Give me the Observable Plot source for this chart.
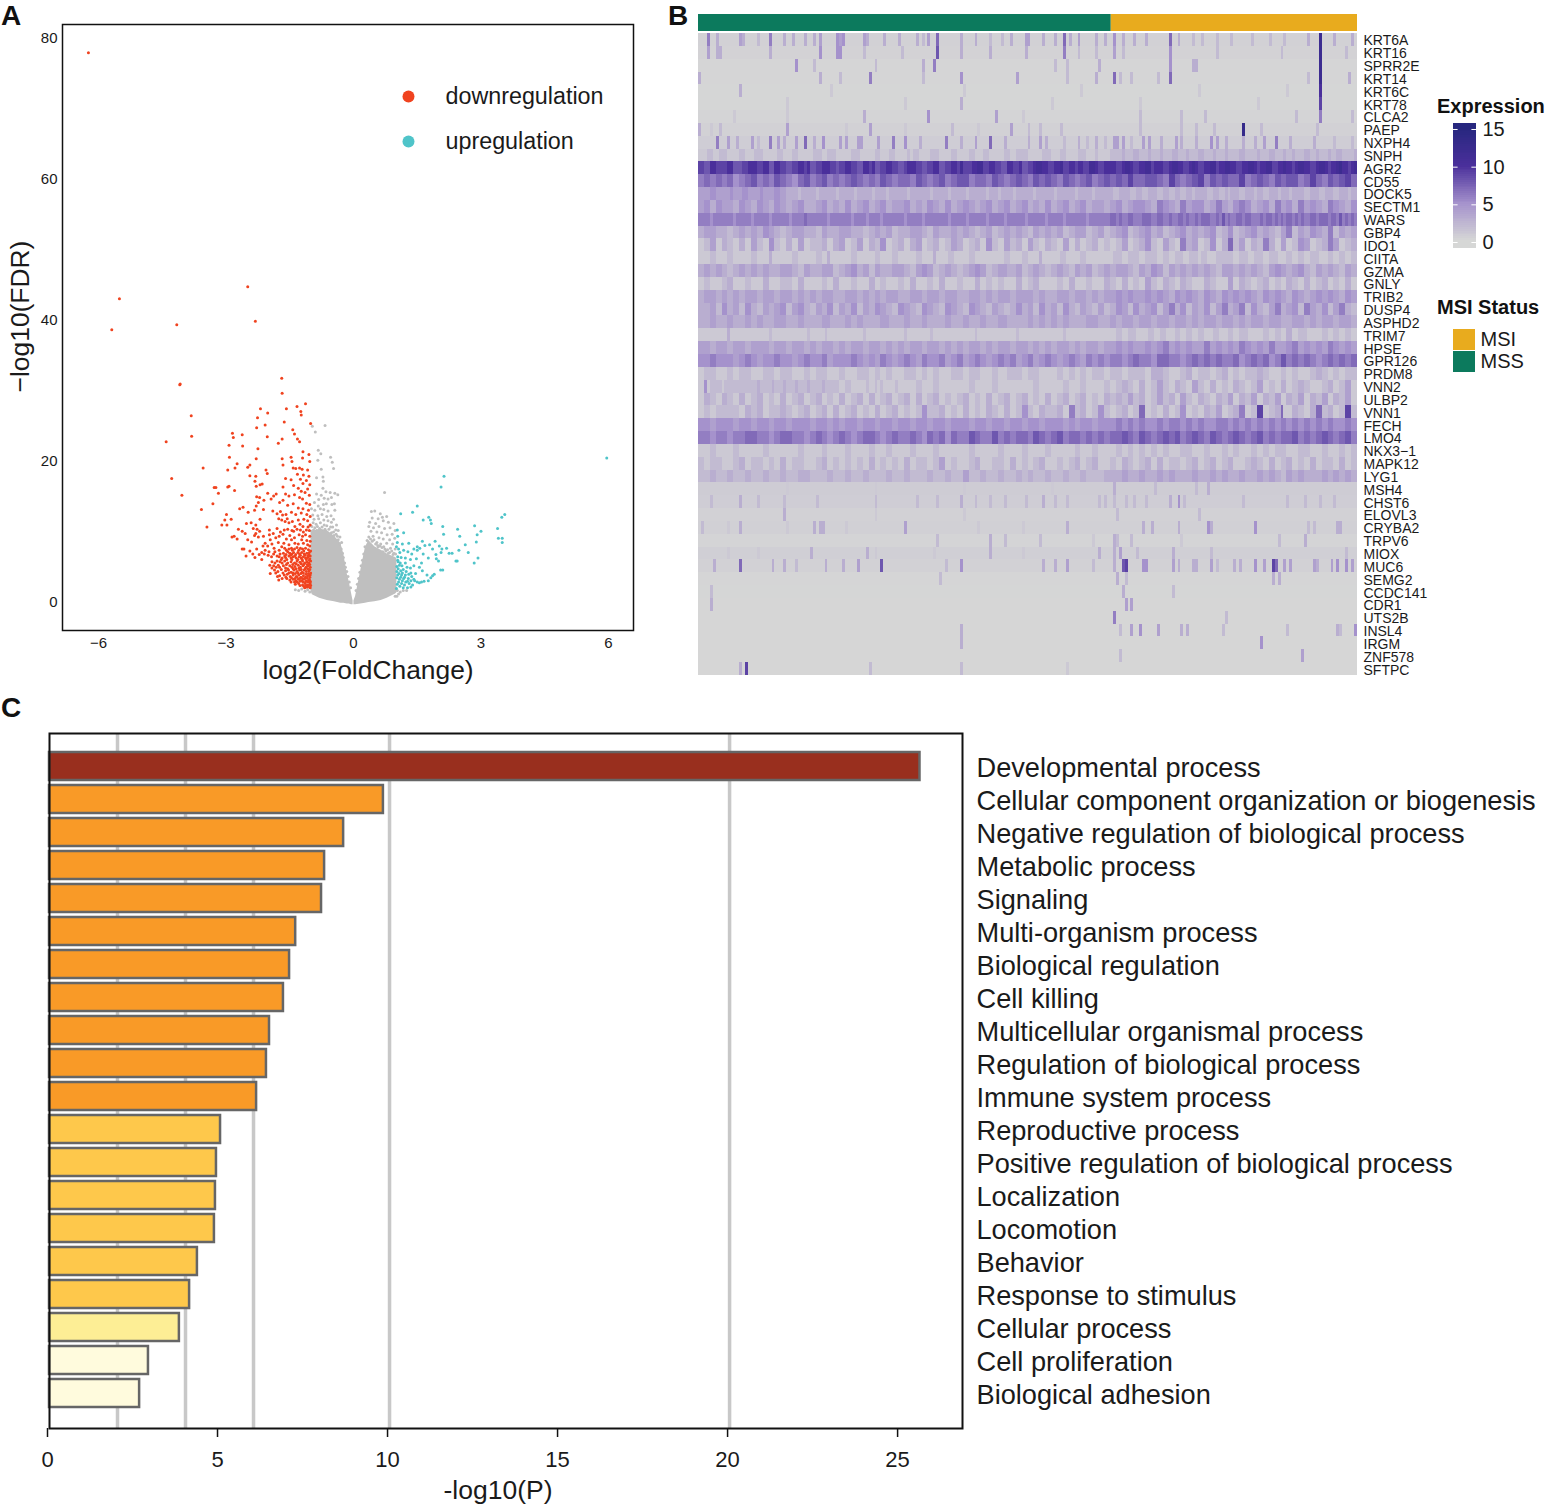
<!DOCTYPE html>
<html>
<head>
<meta charset="utf-8">
<script src="https://cdn.jsdelivr.net/npm/d3@7"></script>
<script src="https://cdn.jsdelivr.net/npm/@observablehq/plot@0.6"></script>
<style>
html,body{margin:0;padding:0;background:#fff;}
#page{position:relative;width:1545px;height:1505px;overflow:hidden;font-family:"Liberation Sans",Arial,sans-serif;color:#111;}
#page>svg,#page>div.t{position:absolute;}
.t{font-weight:bold;white-space:nowrap;line-height:1.1;}
</style>
</head>
<body>
<div id="page"></div>
<script>
/* ---------- Panel A: volcano ---------- */
const downPts = [[-6.24,78.0],[-5.51,43.1],[-5.69,38.7],[-4.16,39.4],[-2.49,44.8],[-2.31,39.9],[-4.09,30.9],[-1.69,31.8],[-1.68,29.7],
[-4.41,22.8],[-4.08,31.0],[-3.82,26.5],[-3.81,23.6],[-3.54,19.1],[-4.28,17.6],[-4.04,15.2],[-3.58,13.2],[-3.45,10.7],[-3.31,14.0],[-3.28,16.3],[-3.24,16.3],[-3.18,15.5],[-2.96,16.4],[-2.93,16.5],[-2.80,15.9],[-2.92,20.6],[-2.96,18.8],[-2.79,19.1],[-2.74,19.7],[-2.93,22.3],[-2.61,22.2],[-2.85,24.0],[-2.83,23.4],[-2.62,23.8],[-2.25,21.8],[-2.29,20.4],[-2.49,19.2],[-2.44,19.5],[-2.44,18.0],[-2.30,17.9],[-2.32,17.2],[-2.29,16.5],[-2.20,16.7],[-2.15,16.8],[-2.06,18.8],[-2.03,18.3],[-2.26,26.2],[-2.19,27.5],[-2.02,26.9],[-2.08,25.2],[-2.28,24.8],[-2.03,23.5],[-1.77,22.6],[-1.68,23.2],[-1.63,25.6],[-1.58,27.5],[-1.33,27.8],[-1.24,27.1],[-1.23,26.6],[-1.13,28.2],[-1.01,25.4],[-1.43,24.5],[-1.39,23.9],[-1.32,23.2],[-1.27,22.8],[-1.47,20.6],[-1.45,20.0],[-1.68,20.4],[-1.66,19.5],[-1.19,21.4],[-1.05,21.0],[-1.20,20.5],[-1.03,20.0],
[-1.42,19.1],[-1.36,19.0],[-1.27,19.1],[-1.21,18.9],[-1.08,18.8],[-1.32,18.2],[-1.18,18.1],[-1.05,17.9],[-1.60,17.6],[-1.47,17.4],[-1.25,17.5],[-1.11,17.3],[-1.19,16.9],[-1.03,16.7],[-1.66,16.4],[-1.41,16.6],[-1.30,16.2],[-1.08,16.1],[-1.23,15.8],[-1.14,15.6],[-1.60,15.4],[-1.52,15.1],[-1.39,15.3],[-1.04,15.2],[-1.27,14.9],[-1.20,14.7],[-2.02,15.5],[-1.88,15.1],[-1.82,15.4],[-1.94,14.7],[-2.11,14.5],[-2.21,14.9],[-2.28,15.0],[-2.24,14.2],[-1.74,14.2],[-1.66,14.5],[-1.55,13.8],[-1.42,14.0],[-1.11,14.1],[-1.03,13.9],[-1.30,13.4],[-1.19,13.3],[-1.06,13.1],[-2.29,13.7],[-2.33,13.1],[-2.48,12.8],[-2.68,13.3],[-2.60,13.5],[-2.12,13.2],[-1.90,13.0],[-1.72,12.9],[-1.80,12.6],[-1.67,12.4],[-1.59,12.5],[-1.46,12.8],[-1.36,12.5],[-1.23,12.7],[-1.10,12.5],[-1.02,12.2],[-2.99,12.5],[-3.03,11.7],[-2.88,11.8],[-3.10,11.0],[-2.98,11.0],[-2.52,11.2],[-2.41,11.3],[-2.30,11.0],[-2.36,10.5],[-2.20,11.8],[-1.76,11.9],[-1.69,11.7],[-1.61,11.5],[-1.56,11.9],[-1.52,11.3],[-1.44,11.5],[-1.30,11.7],[-1.17,11.8],[-1.08,11.6],[-1.26,11.1],[-1.38,10.8],[-1.19,10.8],[-1.07,10.7],[-1.02,11.0],
[-2.71,10.4],[-2.62,10.1],[-2.55,9.8],[-2.86,9.3],[-2.81,9.4],[-2.30,9.8],[-2.27,10.4],[-2.21,10.1],[-2.33,9.5],[-2.24,9.3],[-1.98,10.3],[-1.80,10.5],[-1.72,10.0],[-1.63,10.3],[-1.55,10.4],[-1.45,10.2],[-1.41,10.1],[-1.33,10.4],[-1.25,10.3],[-1.18,10.0],[-1.11,10.3],[-1.04,10.2],[-1.98,9.6],[-1.83,9.2],[-1.75,9.4],[-1.66,9.7],[-1.50,9.5],[-1.39,9.2],[-1.28,9.6],[-1.20,9.4],[-1.13,9.6],[-1.03,9.4],[-1.58,9.0],[-1.46,8.9],[-1.22,8.9],[-1.10,8.8],[-1.02,8.7],[-2.62,7.6],[-2.58,7.6],[-2.53,6.6],[-2.08,8.4],[-2.13,8.0],[-2.02,8.0],[-1.92,8.3],[-1.87,7.7],[-1.77,8.5],[-1.64,8.4],[-1.52,8.2],[-1.38,8.4],[-1.30,8.3],[-1.18,8.4],[-1.08,8.2],[-1.03,8.0],[-2.08,7.4],[-2.16,7.1],[-1.99,7.2],[-1.85,7.2],[-1.75,7.4],[-1.62,7.7],[-1.52,7.6],[-1.46,7.7],[-1.39,7.6],[-1.33,7.8],[-1.25,7.7],[-1.20,7.6],[-1.13,7.7],[-1.06,7.5],[-1.01,7.3],[-2.32,6.4],[-2.16,6.1],[-2.01,6.7],[-1.93,6.5],[-1.88,6.9],[-1.65,7.0],[-1.59,6.8],[-1.55,7.2],[-1.50,7.0],[-1.45,6.9],[-1.41,7.1],[-1.36,6.8],[-1.31,7.1],[-1.27,6.9],[-1.22,7.1],[-1.16,6.9],[-1.10,7.0],[-1.05,6.8],[-1.02,6.6],[-1.75,6.5],[-1.68,6.3],[-1.60,6.4],[-1.52,6.6],[-1.47,6.3],[-1.42,6.5],[-1.35,6.3],[-1.28,6.5],[-1.23,6.3],[-1.18,6.5],[-1.13,6.3],[-1.08,6.4],[-1.03,6.2],[-1.92,5.8],[-1.85,5.6],[-1.80,5.9],[-1.73,5.8],[-1.62,5.9],[-1.55,5.6],[-1.47,5.8],[-1.39,5.6],[-1.33,5.9],[-1.26,5.7],[-1.20,5.9],[-1.15,5.6],[-1.10,5.8],[-1.05,5.6],[-1.01,5.9],[-1.88,5.2],[-1.82,5.0],[-1.77,5.3],[-1.65,5.2],[-1.60,4.9],[-1.50,5.2],[-1.45,5.0],[-1.38,5.1],[-1.30,5.3],[-1.25,5.0],[-1.19,5.2],[-1.12,5.0],[-1.07,5.2],[-1.02,5.0],[-1.86,4.6],[-1.78,4.4],[-1.70,4.7],[-1.60,4.5],[-1.53,4.6],[-1.47,4.3],[-1.40,4.6],[-1.33,4.4],[-1.27,4.6],[-1.21,4.3],[-1.16,4.6],[-1.11,4.4],[-1.05,4.5],[-1.01,4.2],[-1.96,4.1],[-1.74,3.8],[-1.63,3.9],[-1.56,4.0],[-1.49,3.7],[-1.42,3.9],[-1.35,3.7],[-1.29,3.9],[-1.24,3.6],[-1.18,3.8],[-1.13,3.6],[-1.08,3.8],[-1.03,3.6],[-1.76,3.2],[-1.57,3.4],[-1.50,3.2],[-1.42,3.3],[-1.36,3.1],[-1.30,3.3],[-1.22,3.1],[-1.17,3.3],[-1.11,3.1],[-1.06,3.2],[-1.02,3.0],[-1.37,2.6],[-1.29,2.7],[-1.20,2.5],[-1.14,2.7],[-1.08,2.5],[-1.03,2.6],[-1.15,2.1],[-1.08,2.2],[-1.02,2.1],
[-1.69,7.9],[-1.58,7.4],[-1.44,7.4],[-1.29,7.4],[-1.17,7.3],[-1.04,7.1],[-1.73,6.9],[-1.62,6.6],[-1.48,6.7],[-1.38,6.6],[-1.25,6.7],[-1.14,6.7],[-1.07,6.6],[-1.70,6.1],[-1.57,6.1],[-1.45,6.1],[-1.31,6.1],[-1.21,6.1],[-1.11,6.1],[-1.04,6.0],[-1.68,5.6],[-1.58,5.4],[-1.43,5.4],[-1.35,5.5],[-1.23,5.5],[-1.17,5.4],[-1.09,5.4],[-1.03,5.4],[-1.74,5.0],[-1.55,4.8],[-1.42,4.8],[-1.35,4.8],[-1.28,4.9],[-1.23,4.7],[-1.14,4.8],[-1.08,4.8],[-1.03,4.7],[-1.66,4.2],[-1.52,4.2],[-1.43,4.2],[-1.37,4.1],[-1.31,4.2],[-1.24,4.1],[-1.18,4.2],[-1.12,4.0],[-1.06,4.1],[-1.02,3.9],[-1.59,3.6],[-1.46,3.5],[-1.38,3.4],[-1.33,3.6],[-1.26,3.4],[-1.20,3.4],[-1.15,3.4],[-1.10,3.5],[-1.04,3.3],[-1.47,2.9],[-1.39,2.9],[-1.33,2.9],[-1.26,3.0],[-1.19,2.9],[-1.13,2.9],[-1.07,2.9],[-1.02,2.8],[-1.26,2.4],[-1.17,2.3],[-1.11,2.4],[-1.05,2.4],[-1.01,2.4],[-1.12,2.2],[-2.10,6.9],[-2.22,6.8],[-1.97,5.3],[-1.92,4.9],[-1.83,4.2],[-1.79,3.7],[-1.68,3.4],[-1.80,6.6],[-1.96,8.9],[-1.89,9.8],[-2.12,9.4],[-2.40,8.6],[-2.49,8.9],[-2.74,9.0],[-2.44,7.3],[-2.28,7.6],[-2.37,6.9]];

const upPts = [[5.96,20.5],[2.13,17.9],[2.06,16.4],[1.50,13.7],[1.39,12.8],[1.11,12.6],[1.77,12.1],[1.81,11.7],[1.64,11.7],[1.83,11.2],[2.85,10.9],[3.56,12.5],[3.49,12.1],[3.39,10.5],[3.41,9.1],[3.50,9.1],[3.50,8.5],[3.00,10.1],[2.91,9.6],[2.89,8.6],[2.45,10.4],[2.50,9.4],[2.10,10.8],[2.12,9.7],[2.63,8.2],[2.48,7.4],[2.70,7.1],[2.93,6.3],[2.84,5.6],[2.41,5.9],[2.44,5.9],[2.10,4.6],[2.05,4.6],
[1.18,9.9],[1.03,10.3],[1.04,9.4],[1.15,8.3],[1.03,8.5],[1.30,8.4],[1.62,8.7],[1.68,8.1],[1.50,7.9],[1.56,7.7],[1.79,8.2],[1.92,8.7],[1.86,7.6],[2.02,8.0],[2.08,7.6],[2.19,7.7],[2.25,7.0],[2.32,7.0],[2.06,7.1],[1.94,6.8],[1.95,6.2],[2.00,5.9],[1.76,6.3],[1.64,6.9],[1.50,7.4],[1.42,7.6],[1.37,6.9],[1.28,7.2],[1.18,7.4],[1.09,7.1],[1.06,7.6],[1.01,7.9],[1.04,6.5],[1.12,6.4],[1.22,6.3],[1.34,6.1],[1.48,6.2],[1.60,5.6],[1.42,5.2],[1.55,5.0],[1.62,4.5],[1.34,4.9],[1.22,5.6],[1.14,5.2],[1.26,5.0],[1.05,5.8],[1.08,5.3],[1.02,5.1],[1.17,4.7],[1.24,4.4],[1.35,4.2],[1.46,4.1],[1.82,3.5],[1.76,3.1],[1.86,3.8],[1.90,4.0],[1.02,4.4],[1.07,4.1],[1.13,3.9],[1.20,3.6],[1.29,3.4],[1.37,3.7],[1.42,3.3],[1.50,2.9],[1.55,2.8],[1.60,2.9],[1.66,3.0],[1.02,3.5],[1.08,3.3],[1.15,3.1],[1.23,2.9],[1.31,2.7],[1.39,2.5],[1.03,2.6],[1.09,2.3],[1.17,2.1],[1.27,2.1],[1.35,2.2],[1.01,2.0],[1.44,3.1],[1.73,3.9],
[1.04,6.0],[1.10,5.6],[1.05,4.8],[1.11,4.5],[1.04,3.9],[1.11,3.6],[1.18,3.4],[1.06,2.9],[1.13,2.7],[1.20,2.5],[1.27,3.0],[1.35,3.1],[1.15,4.2],[1.30,4.0],[1.22,3.9]];

const noSigPts = [[-0.97,25.0],[-0.67,25.1],[-0.90,24.2],[-0.83,21.6],[-0.77,21.1],[-0.54,20.6],[-0.50,19.9],[-0.47,19.0],[-0.84,20.2],[-0.76,18.9],[-0.87,17.7],[-0.72,17.8],[-0.71,17.2],[-0.72,16.2],[-0.65,15.7],[-0.55,15.6],[-0.44,15.5],[-0.37,15.3],[-0.87,15.4],[-0.76,15.2],[-0.82,14.6],[-0.69,14.8],[-0.60,14.7],[-0.52,14.9],[-0.92,14.2],[-0.83,13.7],[-0.71,13.9],[-0.64,14.0],[-0.51,13.9],[-0.45,14.0],[-0.99,13.3],[-0.91,13.1],[-0.78,13.3],[-0.70,13.2],[-0.60,13.0],[-0.44,13.1],[-0.96,12.4],[-0.84,12.3],[-0.74,12.5],[-0.63,12.2],[-0.53,12.3],[-0.47,11.8],[-0.93,11.8],[-0.82,11.9],[-0.70,11.7],[-0.60,11.6],[-0.52,11.4],[-0.40,11.0],[-0.36,10.2],[-0.95,11.3],[-0.88,11.1],[-0.78,11.3],[-0.69,11.0],[-0.63,10.9],[-0.49,10.7],[-0.42,10.3],[-0.32,9.3],[-0.28,8.5],
[-0.98,10.8],[-0.91,10.6],[-0.85,10.8],[-0.80,10.5],[-0.74,10.7],[-0.67,10.4],[-0.58,10.4],[-0.54,10.7],[-0.47,10.0],[-0.41,9.7],[-0.38,9.4],[-0.99,10.1],[-0.94,10.3],[-0.87,10.2],[-0.76,10.2],[-0.71,10.0],[-0.52,9.9],[-0.46,9.5],[-0.36,8.9],[-0.33,8.3],[-0.29,7.6],[-0.26,7.0],[-0.24,6.4],[-0.21,5.6],[-0.19,5.0],[-0.16,4.4],[-0.13,3.7],[-0.10,2.9],[-0.07,2.1],[-1.03,10.9],
[0.73,15.6],[0.42,12.9],[0.50,13.0],[0.63,12.6],[0.68,12.1],[0.78,12.2],[0.44,12.0],[0.58,11.9],[0.38,11.4],[0.52,11.2],[0.70,11.6],[0.82,11.4],[0.95,11.2],[0.36,10.8],[0.47,10.6],[0.60,10.8],[0.73,10.5],[0.86,10.6],[0.98,10.2],[0.41,10.1],[0.55,10.0],[0.66,9.9],[0.79,9.6],[0.91,9.7],[0.60,9.2],[0.46,9.4],[0.70,9.0],[0.85,8.9],[0.97,9.1],[0.55,8.5],[0.64,8.3],[0.78,8.4],[0.92,8.3],[0.58,7.9],[0.74,7.6],[0.87,7.7],[0.98,7.6],[0.69,7.2],[0.82,7.0],[0.93,6.8],
[0.32,8.8],[0.36,9.3],[0.40,9.0],[0.44,8.7],[0.48,8.9],[0.52,8.3],[0.57,8.1],[0.62,8.0],[0.67,7.8],[0.71,7.9],[0.76,7.3],[0.80,7.5],[0.85,7.1],[0.90,7.3],[0.95,7.0],[0.99,6.9],[0.27,7.9],[0.24,6.9],[0.21,6.0],[0.18,5.2],[0.15,4.3],[0.12,3.4],[0.09,2.6],[0.06,1.7],
[-1.37,1.8],[-1.29,1.7],[-1.22,1.9],[-1.14,1.6],[-1.08,1.8],[-1.03,1.5],[1.03,1.7],[1.06,1.2],[1.10,1.5],[1.17,1.7],[1.25,1.7],[0.98,0.9],[1.02,0.9]];

const leftLobeX    = [-1.0,-0.97,-0.8,-0.62,-0.45,-0.30,-0.23,-0.15,-0.10,-0.05,-0.01];
const leftLobeLow  = [1.6,1.1,0.6,0.3,0.1,-0.1,-0.1,-0.2,-0.2,-0.3,-0.3];
const leftLobeHigh = [9.8,10.0,10.4,10.2,9.4,8.4,6.9,4.1,2.9,1.4,0.2];
const rightLobeX    = [0.01,0.05,0.17,0.28,0.36,0.5,0.65,0.79,0.99,1.02];
const rightLobeLow  = [-0.3,-0.3,-0.2,-0.1,0.0,0.1,0.3,0.6,1.2,1.4];
const rightLobeHigh = [0.2,0.9,4.5,7.8,8.8,7.9,7.4,6.9,6.4,6.2];
const volcanoLegend = ["downregulation","upregulation"];
const volcanoColors = ["#f0431f","#4fc4c9"];

/* ---------- Panel B: heatmap ---------- */
const genes = ["KRT6A","KRT16","SPRR2E","KRT14","KRT6C","KRT78","CLCA2","PAEP","NXPH4","SNPH","AGR2","CD55","DOCK5","SECTM1","WARS","GBP4","IDO1","CIITA","GZMA","GNLY","TRIB2","DUSP4","ASPHD2","TRIM7","HPSE","GPR126","PRDM8","VNN2","ULBP2","VNN1","FECH","LMO4","NKX3−1","MAPK12","LYG1","MSH4","CHST6","ELOVL3","CRYBA2","TRPV6","MIOX","MUC6","SEMG2","CCDC141","CDR1","UTS2B","INSL4","IRGM","ZNF578","SFTPC"];
const statusBlocks = [{status:"MSS",start:0,end:140.3},{status:"MSI",start:140.3,end:224}];
const denseGenes = ["SNPH","AGR2","CD55","DOCK5","SECTM1","WARS","GBP4","IDO1","CIITA","GZMA","GNLY","TRIB2","DUSP4","ASPHD2","TRIM7","HPSE","GPR126","PRDM8","VNN2","ULBP2","VNN1","FECH","LMO4","NKX3−1","MAPK12","LYG1"];
const denseRows = [
"1112211222 1111221112 2211111221 1122111112 2211222111 1122211111 2211122111 1212211112 2211112211 1122111221 1111221122 2211111222 1112211112 2211121111|2222322233 2223222322 2332223222 3322232223 2222332222 3222332223 2232223322 3222322332 2223",
"9988aa9999 aa88899aaa 99aa88aa99 8899aa9a88 99aaa99899 aa9988aa9a 8899aa9988 9aaa998899 aa8899aa9b 999aabb99a a9988aa99a 8899abbaa9 9aab99aa9a a99bba99aa|aa99abba99 aabb9aaa99 abbaa99aba 99aabb9aab baa99aabba 9aabb99aab aa9abbaa99 abba9aabca a9ab",
"6677667766 7755667788 6677668877 6655778866 7788667766 7788776677 6688776677 7766887766 7788667788 8866777766 8877667788 7766887788 7766887766 7788667788|7788779977 7788887766 9977667788 9966887788 7777996677 8877668877 8888667799 7766887788 9977",
"4444554444 4544455444 4544445544 3333233333 2333333233 3332333332 3333233333 3233333332 3333323333 3233333323 3323333233 3333233333 3233333323 3333233333|3223333223 3223332233 2233223323 3332233223 2333223332 3322333233 3233332233 3223332233 3233",
"4455335544 4433554433 5544335544 3344553333 4455334433 5533445533 4455334444 5533443355 4433553344 5544334455 3344553344 5533443355 3344553344 5533444433|4455334455 5544336655 4433664455 5533446644 3355665533 4455336644 5533664455 4433665544 3355",
"6666566666 6656666656 6666566666 6566667666 6666566666 6656666566 6656666666 5666665666 6666656666 6566666656 6666566666 6566666656 6666566666 6656666666|7767667766 6777667766 7667767667 6777667686 7667767766 6767767676 7767676677 6777677686 7676",
"3344443333 2233443344 3355443322 3344443333 2244333344 4433332233 4433442233 3344443322 4433334433 4433223344 2233443344 3322443344 3344223344 4422334422|3344552233 4455334422 3344553344 3344552233 5522334455 3344332244 6622443355 4433662244 3344",
"1122441133 2211331144 2211552211 3311441122 2233113344 1122441133 2255112233 1133441122 3311224433 1122331155 2211442233 1144221133 2211441133 1122331122|1122441122 3355221144 2211663344 1122551133 7722441133 2266331144 1122554411 2233664411 2233",
"1111221111 2211111122 1111311111 1122111111 2211311111 1122111111 2211112211 1111221111 3111122111 1122111111 1111221111 2211113111 1112211111 2211111111|1222112222 1122221122 1122211222 1221112222 2211222112 2211222111 2211221122 2111221122 1122",
"3344334433 2233443344 3344333344 4433224433 3344442233 4455334422 4433334444 3322445544 2233443322 3344554422 3344433344 2233443322 3344332244 3344223344|3344443322 4433554422 4433443344 3344332244 4433443344 3322445544 3344553322 4433443322 4433",
"1122111122 3311112211 1133111122 2211331111 1122113311 1122111133 1122111122 1133111122 1133111122 1111331122 1122111133 1122331111 1122113311 1122111133|2211331122 1144221133 2211332211 1133221111 4411332211 2233112211 3322113311 2233112211 3311",
"3344443344 3344334444 3344443344 4433443344 3344443333 4444334433 4433444433 3344443344 4433444433 3344443344 3344443344 4444334433 3344443344 4433443344|4455445544 4455445544 3355445544 3355443355 4455445544 3355445544 3355443344 5544554433 5544",
"3333442255 3344225533 2244334455 2244553322 4433552244 3355224433 5544332255 4433225544 3322554433 2255443322 4433223355 3344225533 4422553322 4433224422|3355442255 3344552244 6633552244 3355224466 3344662255 3322446633 4455226644 3355224466 3322",
"3333443333 4433334433 4433334444 3333443333 3344433333 4433443333 3344433333 4433334433 3333443333 4433334433 3344433333 3344334433 4433443333 3344443333|4433444433 4444334444 3344443344 3344443344 4433443344 4433444433 3344443344 3344443344 4433",
"1111111111 3111111111 1111211111 1111111211 1112111111 1111112111 1111111111 2111111112 1111111111 1111211111 1111111121 1111111111 1111211111 1111111111|1122112221 1112211221 1122112211 2211122111 2211222111 1122112211 3311222111 1122112211 2211",
"4444334444 3344443344 4444334444 3344443344 3344443344 3344443344 4433443344 3344443344 4433443344 3344443344 3344443344 4433443344 3344443344 3344443344|4455445544 4455445566 4455445544 4466445544 5544665544 5544664444 5566445544 5544665544 5544",
"5555665555 5544556655 4455556655 5544556655 5566445555 5566554455 4466554455 6655446655 5566445566 4455665544 5566556644 5566445566 5544556655 4466556655|6666556677 6666557777 6666556677 6677667766 6677556677 6677556688 6677667766 5566776677 6677",
"1122221111 2211222211 1122221122 2211112211 2222111122 1111222211 2211221111 2222112211 2211112222 1122221111 2211122222 1122221111 1122112211 2211222211|2222112222 2211333322 1111223311 2222112233 1122112222 3322111122 1122111122 3322112211 2222",
"1151222212 2222222222 3222232223 2223222322 2232222211 2211111211 2121111211 1111221111 2211111111 1122111111 2211111111 1111221111 1111221111 2211111122|1122332211 3311224422 1133221144 2211331122 1133221122 4411221133 1122332211 1122331122 4411",
"1133221133 2211331122 3311221133 1122331122 3311221133 1122331133 1122331122 3311331122 3311221122 3311221133 1122331122 3311221133 1122331122 3311221133|2233224422 3311224422 3311442211 3322113322 4411332244 1133224411 3322441133 2244113322 4411",
"1122112222 2222113322 3311222233 2211223311 2233113311 2233112211 3311223311 2211225522 2233112211 3311221133 2211331122 5522113322 2233116622 3311225522|1122331122 7711221133 1122551122 1133224411 2233661122 9911223371 1133221133 7722331122 9922",
"5555445555 5544555544 5555445555 4455555544 5555445544 5555445555 4455554455 5544555544 5555445555 5544555544 5555445555 4455554455 5555445544 5555445555|5566556655 6655556655 6666556655 6655556666 5566556655 6655665566 5566556655 6655665555 6655",
"6666556666 5566667777 6666556677 7766665566 7766556677 6655667777 6655667766 6677665577 6677557766 6688776666 8866776677 7766887766 7788667777 6677667766|7777887766 8877667788 7788667788 7766887766 7788776677 8866776677 7788667766 7788776677 8866",
"1111221111 1122111111 1122111111 1111221111 1122111111 2211111122 1111221111 1122111111 2211111111 1122111111 1122111111 2211111122 1111111122 1111221111|1122112211 2211221122 1111222211 1122111122 1122111122 1122112222 1111222211 1122111122 1122",
"2211222211 1122331122 2211221133 1122221111 2233112211 2211221133 1122112211 3311222211 2244112211 1122331111 2222113311 2211223311 1122112233 1122331111|2211332211 2233113311 2222112233 1122331122 3311112233 2211331122 3311221133 1122221133 1122",
"2222332222 3322223322 2233222233 2222333322 2222332222 3322223322 2222332222 3322222233 2222332222 4422223322 2233222233 2233222233 2222332222 3322222233|3333443333 4433334433 4433333344 3333443344 3333443333 4433443322 4433443333 3344334433 4433"
];
const sparseGenes = ["KRT6A","KRT16","SPRR2E","KRT14","KRT6C","KRT78","CLCA2","PAEP","NXPH4","MSH4","CHST6","ELOVL3","CRYBA2","TRPV6","MIOX","MUC6","SEMG2","CCDC141","CDR1","UTS2B","INSL4","IRGM","ZNF578","SFTPC"];
const sparseBase = [0.4,0.35,0.15,0.15,0.1,0.1,0.25,0.4,0.7,0.8,0.7,0.4,0.5,0.25,0.6,0.4,0.15,0.08,0.05,0.05,0.05,0.05,0.05,0.05];
const sparseSpikes = [
"3:6 6:3 14:4 15:3 20:2 24:6 29:3 32:3 36:3 39:3 41:4 47:5 48:4 49:5 56:4 57:3 63:3 68:3 74:3 76:2 78:4 81:7 89:3 94:3 99:2 103:2 106:3 111:4 112:4 117:3 121:3 124:7 126:3 129:4 135:3 138:3 141:5 144:3 148:3 152:3 160:7 163:3 168:2 171:2 176:2 181:2 188:2 194:2 199:2 207:3 211:12 216:3 222:3",
"3:4 6:3 7:3 24:3 41:5 47:5 48:5 56:2 69:2 81:8 89:3 99:3 111:3 124:6 129:2 135:2 141:4 144:2 160:5 176:2 198:2 211:12 220:2",
"33:5 39:2 60:2 76:3 80:6 121:2 125:2 136:3 160:5 168:3 169:3 211:12",
"0:3 41:3 48:2 58:6 76:2 89:5 108:4 125:2 135:3 141:7 143:2 147:2 156:2 160:7 207:2 211:12 221:3",
"14:3 211:10 45:1 90:1 130:1 170:1 200:1",
"89:3 211:9 30:1 70:1 120:1 150:1 190:1",
"56:3 78:5 101:4 150:2 164:2 172:2 203:2 211:6 222:2 12:1 30:1 110:1",
"0:3 7:2 30:4 58:4 86:2 106:4 112:2 116:2 123:2 150:2 164:2 169:2 175:2 185:13 191:2 210:2 4:1 50:1 70:1 95:1",
"6:6 10:4 13:3 18:4 20:2 24:6 27:4 29:3 33:4 36:7 39:3 42:5 48:4 50:4 54:4 55:4 61:4 66:6 70:5 75:3 84:6 89:3 94:4 99:7 104:3 112:3 116:4 118:3 124:2 129:3 132:2 135:3 138:2 141:4 142:4 144:4 147:2 151:4 153:4 157:3 162:4 164:3 169:3 174:5 176:4 179:3 185:3 189:3 192:4 196:6 201:3 209:3 216:2 222:2",
"141:3 173:3 169:2 155:2 30:1 60:1 90:1 120:1",
"4:2 14:3 20:2 29:2 40:2 60:2 74:2 81:2 89:3 94:2 99:2 104:2 111:2 117:3 121:2 125:2 136:2 138:2 141:2 145:2 148:2 152:2 160:3 163:5 165:2 185:2 200:2 206:2 211:2 216:2",
"29:3 142:2 170:2 60:1 90:1",
"1:2 14:3 39:3 41:3 42:3 70:4 125:3 151:3 154:3 163:3 173:5 174:3 189:5 207:2 209:2 217:3 218:3 10:1 30:1 50:1 95:1 110:1",
"81:2 99:3 104:2 116:2 134:1 141:3 142:2 147:2 164:1 197:2 206:3",
"38:3 57:3 99:3 136:3 141:3 143:4 149:2 161:3 174:2 220:2 10:1 20:1 60:1 80:1 110:1",
"5:3 14:7 25:3 29:3 33:2 43:3 49:3 54:4 62:8 84:2 89:5 117:3 121:3 125:4 134:2 141:3 144:8 145:9 151:5 152:5 161:4 163:3 168:3 169:3 174:4 176:2 182:3 184:3 189:5 192:4 195:9 196:7 199:4 201:4 209:4 210:3 215:4 217:5 220:5 222:4",
"82:2 142:3 145:2 195:3 197:3",
"4:2 144:3 161:2",
"4:3 145:4 147:4",
"141:6 179:2",
"89:3 143:2 147:4 150:5 156:4 164:3 166:3 178:2 200:2 217:3 218:2 223:5",
"89:3 191:5",
"143:2 205:4",
"14:3 16:9 58:2 89:2 125:1"
];

const heatCells = [];
denseGenes.forEach((gene, g) => {
  const [a, b] = denseRows[g].replace(/ /g, "").split("|");
  const mss = a.padEnd(140, a).slice(0, 140), msi = b.padEnd(84, b).slice(0, 84);
  [...mss, ...msi].forEach((ch, col) => heatCells.push({gene, col, value: parseInt(ch, 16)}));
});
sparseGenes.forEach((gene, g) => {
  const vals = new Map(sparseSpikes[g].split(" ").map(s => s.split(":").map(Number)));
  for (const col of d3.range(224)) heatCells.push({gene, col, value: vals.has(col) ? vals.get(col) : sparseBase[g]});
});
const heatDomain = [0, 5, 10, 15];
const heatRange = ["#d6d7d6", "#a592cc", "#4a2f9b", "#27277f"];
const rampTicks = [0, 5, 10, 15];
const rampValues = d3.range(-0.75, 15.75, 0.25);
const msiLegend = ["MSI", "MSS"];
const msiColors = ["#e8ab1e", "#0c7a5d"];

/* ---------- Panel C: bars ---------- */
const terms = ["Developmental process","Cellular component organization or biogenesis","Negative regulation of biological process","Metabolic process","Signaling","Multi-organism process","Biological regulation","Cell killing","Multicellular organismal process","Regulation of biological process","Immune system process","Reproductive process","Positive regulation of biological process","Localization","Locomotion","Behavior","Response to stimulus","Cellular process","Cell proliferation","Biological adhesion"];
const logP = [25.6,9.82,8.65,8.09,8.0,7.24,7.06,6.88,6.47,6.38,6.09,5.03,4.91,4.88,4.85,4.35,4.12,3.82,2.91,2.65];
const tiers = ["t1","t2","t2","t2","t2","t2","t2","t2","t2","t2","t2","t3","t3","t3","t3","t3","t3","t4","t5","t5"];
const tierNames = ["t1","t2","t3","t4","t5"];
const tierColors = ["#992f1e","#f99a27","#fec84b","#fdee95","#fffbdd"];
const gridLines = [2,4,6,10,20];
const barTicks = [0,5,10,15,20,25];

/* ---------- drawing ---------- */
const FONT = '"Liberation Sans",Arial,sans-serif';
const page = document.getElementById("page");
const style = {fontFamily: FONT, background: "transparent", overflow: "visible", color: "#1a1a1a"};
function place(svg, left, top) { svg.style.left = left + "px"; svg.style.top = top + "px"; page.appendChild(svg); }
function title(text, left, top, size) {
  const d = document.createElement("div"); d.className = "t"; d.textContent = text;
  d.style.left = left + "px"; d.style.top = top + "px"; d.style.fontSize = size + "px"; page.appendChild(d);
}

place(Plot.plot({
  width: 660, height: 700, marginLeft: 62, marginRight: 27, marginTop: 24, marginBottom: 70, style,
  x: {domain: [-6.85, 6.59]}, y: {domain: [-3.97, 82]},
  marks: [
    Plot.areaY(leftLobeX, {x: d => d, y1: leftLobeLow, y2: leftLobeHigh, fill: "#bfbfbf"}),
    Plot.areaY(rightLobeX, {x: d => d, y1: rightLobeLow, y2: rightLobeHigh, fill: "#bfbfbf"}),
    Plot.dot(noSigPts, {x: d => d[0], y: d => d[1], r: 1.5, fill: "#bfbfbf"}),
    Plot.dot(downPts, {x: d => d[0], y: d => d[1], r: 1.5, fill: volcanoColors[0]}),
    Plot.dot(upPts, {x: d => d[0], y: d => d[1], r: 1.5, fill: volcanoColors[1]}),
    Plot.frame({stroke: "#111", strokeWidth: 1.5}),
    Plot.axisX({ticks: [-6,-3,0,3,6], tickSize: 0, tickPadding: 7, fontSize: 15, label: null}),
    Plot.axisY({ticks: [0,20,40,60,80], tickSize: 0, tickPadding: 5, fontSize: 15, label: null}),
    Plot.text(["log2(FoldChange)"], {text: d => d, frameAnchor: "bottom", textAnchor: "middle", lineAnchor: "middle", dx: 20, dy: 40, fontSize: 26.4}),
    Plot.text(["−log10(FDR)"], {text: d => d, frameAnchor: "left", textAnchor: "middle", lineAnchor: "middle", rotate: -90, dx: -42, dy: -11, fontSize: 26.4})
  ]
}), 0, 0);

place(Plot.plot({
  width: 220, height: 90, margin: 0, style,
  y: {domain: volcanoLegend, axis: null},
  color: {domain: volcanoLegend, range: volcanoColors},
  marks: [
    Plot.dot(volcanoLegend, {y: d => d, fill: d => d, r: 6, frameAnchor: "left", dx: 13}),
    Plot.text(volcanoLegend, {y: d => d, text: d => d, frameAnchor: "left", dx: 50, fontSize: 23.3})
  ]
}), 395, 72.5);

place(Plot.plot({
  width: 659, height: 17, margin: 0, style,
  x: {domain: [0, 224], axis: null},
  color: {domain: ["MSI","MSS"], range: msiColors},
  marks: [Plot.rectX(statusBlocks, {x1: "start", x2: "end", fill: "status"})]
}), 698, 14);

place(Plot.plot({
  width: 737, height: 642, marginLeft: 0, marginRight: 78, marginTop: 0, marginBottom: 0, style,
  x: {type: "band", domain: d3.range(224), padding: 0, axis: null},
  y: {type: "band", domain: genes, padding: 0},
  color: {type: "linear", domain: heatDomain, range: heatRange, clamp: true},
  marks: [
    Plot.cell(heatCells, {x: "col", y: "gene", fill: "value", shapeRendering: "crispEdges"}),
    Plot.axisY({anchor: "right", tickSize: 0, tickPadding: 6, dy: 1, fontSize: 14, label: null})
  ]
}), 698, 33);

place(Plot.plot({
  width: 70, height: 123, marginLeft: 0, marginRight: 47, marginTop: 0, marginBottom: 0, style,
  x: {domain: [0, 1], axis: null},
  y: {domain: [-0.66, 15.66]},
  color: {type: "linear", domain: heatDomain, range: heatRange, clamp: true},
  marks: [
    Plot.rect(rampValues, {x1: 0, x2: 1, y1: d => d, y2: d => d + 0.25, fill: d => d, shapeRendering: "crispEdges"}),
    Plot.ruleY(rampTicks, {x1: 0, x2: 0.2, stroke: "#fff", strokeWidth: 1}),
    Plot.ruleY(rampTicks, {x1: 0.8, x2: 1, stroke: "#fff", strokeWidth: 1}),
    Plot.axisY({ticks: rampTicks, anchor: "right", tickSize: 0, tickPadding: 6, fontSize: 20, label: null})
  ]
}), 1453, 124);

place(Plot.plot({
  width: 90, height: 46, marginLeft: 0, marginRight: 68, marginTop: 0, marginBottom: 0, style,
  x: {domain: ["s"], axis: null, padding: 0},
  y: {domain: msiLegend, padding: 0.05},
  color: {domain: msiLegend, range: msiColors},
  marks: [
    Plot.cell(msiLegend, {x: () => "s", y: d => d, fill: d => d}),
    Plot.axisY({anchor: "right", tickSize: 0, tickPadding: 5, fontSize: 20, label: null})
  ]
}), 1453, 327);

place(Plot.plot({
  width: 1545, height: 815, marginLeft: 49, marginRight: 583, marginTop: 43, marginBottom: 77, style,
  x: {domain: [0, 26.85]},
  y: {type: "band", domain: terms, range: [62, 718], paddingInner: 0.15, paddingOuter: 0},
  color: {domain: tierNames, range: tierColors},
  marks: [
    Plot.ruleX(gridLines, {stroke: "#c8c8c8", strokeWidth: 3.5}),
    Plot.barX(terms, {x: logP, y: terms, fill: tiers, stroke: "#666", strokeWidth: 2.5}),
    Plot.frame({stroke: "#111", strokeWidth: 2}),
    Plot.axisX({ticks: barTicks, tickSize: 9, tickPadding: 14, dx: -2, fontSize: 22, label: null, strokeWidth: 1.5, stroke: "#111"}),
    Plot.axisY({anchor: "right", tickSize: 0, tickPadding: 14, dy: 2, fontSize: 27.2, label: null}),
    Plot.text(["-log10(P)"], {text: d => d, frameAnchor: "bottom", textAnchor: "middle", lineAnchor: "middle", dx: -8, dy: 62, fontSize: 26.5})
  ]
}), 0, 690);

title("A", 1, 1, 28);
title("B", 668, 1, 28);
title("C", 1, 693, 28);
title("Expression", 1437, 95, 20);
title("MSI Status", 1437, 296, 20);
</script>
</body>
</html>
